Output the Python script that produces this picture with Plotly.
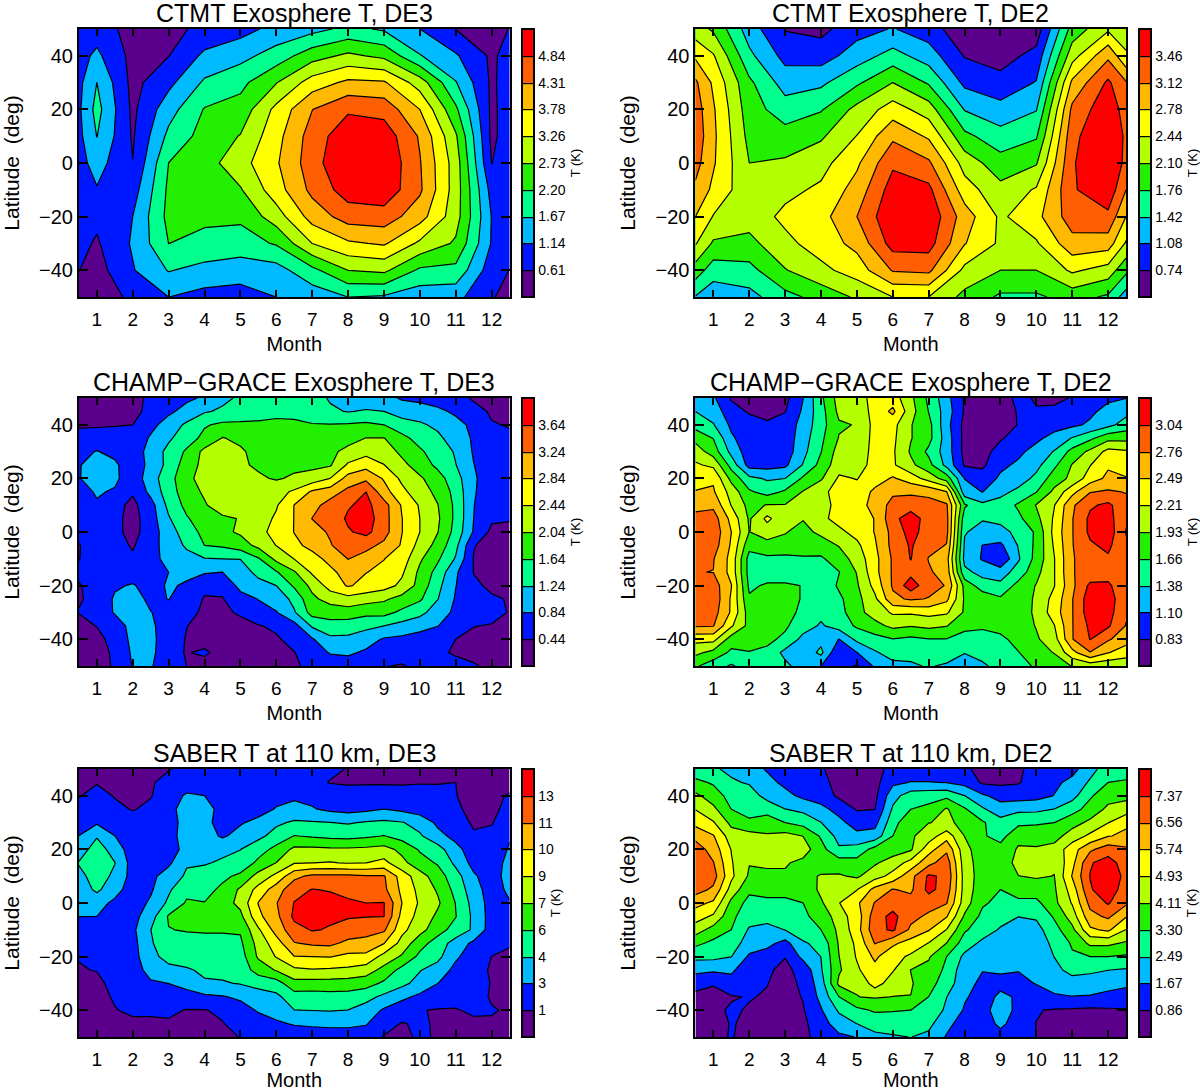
import numpy as np
import plotly.graph_objects as go

MONTHS_COARSE = [0.5, 1, 2, 3, 4, 5, 6, 7, 8, 9, 10, 11, 12, 12.5]
MONTHS_FINE = [0.5, 1, 1.5, 2, 2.5, 3, 3.5, 4, 4.5, 5, 5.5, 6, 6.5, 7, 7.5, 8, 8.5, 9, 9.5, 10, 10.5, 11, 11.5, 12, 12.5]
LATS_COARSE = [50, 40, 30, 20, 10, 0, -10, -20, -30, -40, -50]
LATS_FINE = [50, 45, 40, 35, 30, 25, 20, 15, 10, 5, 0, -5, -10, -15, -20, -25, -30, -35, -40, -45, -50]
MONTH_TICKS = [1, 2, 3, 4, 5, 6, 7, 8, 9, 10, 11, 12]
LAT_TICKS = [-40, -20, 0, 20, 40]

BAND_COLORS = ['#5a008c', '#0018ff', '#00baff', '#00ff8c', '#22f000',
               '#b4ff00', '#ffff00', '#ffb900', '#ff5f00', '#ff0000']

# one list per month column, each running from 50N to 50S
CTMT_DE3 = [
    [.85, .95, 1.0, 1.05, 1.0, .95, .9, .85, .75, .62, .4],
    [.9, 1.25, 1.67, 1.85, 1.68, 1.35, 1.1, .72, .55, .4, .25],
    [.4, .45, .45, .5, .55, .62, .9, 1.14, 1.2, 1.1, .75],
    [.45, .6, 1.0, 1.45, 1.8, 2.2, 2.3, 2.35, 2.2, 1.7, 1.14],
    [.75, 1.25, 1.75, 2.23, 2.4, 2.5, 2.45, 2.3, 2.05, 1.5, .95],
    [.95, 1.5, 2.05, 2.4, 2.75, 3.05, 2.68, 2.3, 1.95, 1.4, .9],
    [1.3, 1.9, 2.7, 3.4, 3.6, 3.72, 3.55, 3.0, 2.25, 1.45, 1.14],
    [1.5, 2.5, 3.5, 4.3, 4.55, 4.6, 4.45, 4.0, 3.26, 2.05, 1.35],
    [1.8, 2.84, 3.9, 4.76, 5.2, 5.4, 5.1, 4.55, 3.7, 2.73, 1.67],
    [1.6, 2.6, 3.85, 4.65, 5.15, 5.3, 5.2, 4.6, 3.85, 2.84, 1.6],
    [1.14, 1.7, 3.0, 3.78, 4.25, 4.35, 4.4, 4.0, 3.15, 2.1, 1.35],
    [.6, 1.2, 1.7, 2.3, 2.8, 3.0, 3.0, 2.95, 2.65, 2.05, 1.3],
    [.5, .52, .52, .5, .5, .6, .95, 1.12, 1.1, .85, .65],
    [.62, .8, .85, .85, .85, .85, .9, .9, .8, .6, .45],
]
CTMT_DE2 = [
    [2.25, 2.72, 3.18, 3.3, 3.35, 3.25, 3.05, 2.78, 2.47, 1.95, 1.4],
    [2.05, 2.47, 2.72, 2.82, 2.85, 2.82, 2.7, 2.42, 2.05, 1.58, 1.2],
    [1.25, 1.5, 1.83, 1.92, 2.0, 2.1, 2.2, 2.25, 2.0, 1.65, 1.3],
    [.72, .97, 1.27, 1.58, 1.9, 2.15, 2.35, 2.52, 2.35, 2.08, 1.65],
    [.65, .92, 1.35, 1.73, 2.05, 2.32, 2.5, 2.66, 2.6, 2.35, 1.88],
    [.95, 1.25, 1.7, 2.2, 2.45, 2.72, 2.92, 3.12, 2.88, 2.6, 2.15],
    [1.1, 1.55, 2.1, 2.6, 3.05, 3.4, 3.62, 3.75, 3.6, 3.15, 2.44],
    [.9, 1.25, 1.72, 2.27, 2.73, 3.18, 3.55, 3.72, 3.6, 3.2, 2.44],
    [.5, .72, 1.0, 1.4, 1.85, 2.3, 2.6, 2.95, 2.8, 2.35, 2.0],
    [.1, .6, .85, 1.2, 1.55, 1.9, 2.2, 2.38, 2.38, 2.1, 1.7],
    [.55, .85, 1.1, 1.4, 1.72, 2.07, 2.48, 2.68, 2.4, 2.1, 1.7],
    [1.9, 2.3, 2.85, 3.2, 3.35, 3.42, 3.42, 3.3, 3.0, 2.5, 1.9],
    [2.38, 3.05, 3.52, 3.7, 3.85, 3.85, 3.7, 3.38, 2.95, 2.3, 1.7],
    [2.2, 2.5, 3.15, 3.3, 3.38, 3.35, 3.12, 2.78, 2.4, 1.85, 1.25],
]

# one list per latitude, 50N at the top, half month steps
CHAMP_DE3 = [
    [.3, .3, .3, .35, .5, .6, .75, .9, 1.15, 1.3, 1.45, 1.5, 1.5, 1.4, 1.2, 1.05, 1.0, .95, .8, .7, .6, .55, .4, .3, .3],
    [.35, .35, .35, .38, .5, .75, 1.0, 1.2, 1.3, 1.45, 1.5, 1.55, 1.55, 1.45, 1.3, 1.22, 1.28, 1.24, 1.05, 1.1, .95, .75, .55, .4, .36],
    [.42, .4, .42, .44, .7, 1.05, 1.3, 1.6, 1.72, 1.7, 1.7, 1.72, 1.7, 1.66, 1.66, 1.68, 1.72, 1.64, 1.42, 1.28, 1.18, 1.0, .72, .46, .42],
    [.5, .6, .58, .5, .9, 1.18, 1.45, 1.75, 2.06, 1.95, 1.8, 1.75, 1.75, 1.75, 1.8, 1.9, 2.05, 2.05, 1.75, 1.5, 1.3, 1.1, .78, .55, .5],
    [.72, .86, .72, .6, 1.0, 1.35, 1.7, 2.15, 2.35, 2.1, 1.9, 1.85, 1.85, 1.85, 1.95, 2.15, 2.3, 2.25, 1.95, 1.7, 1.45, 1.2, .8, .6, .55],
    [.82, .98, .92, .55, .98, 1.35, 1.85, 2.15, 2.3, 2.1, 1.98, 1.9, 1.95, 1.95, 2.0, 2.5, 2.7, 2.45, 2.15, 1.85, 1.55, 1.25, .85, .6, .55],
    [.82, 1.02, .92, .6, 1.05, 1.5, 1.9, 2.25, 2.3, 2.2, 2.1, 2.0, 2.1, 2.2, 2.44, 3.0, 3.15, 2.8, 2.35, 2.1, 1.8, 1.4, .9, .6, .55],
    [.7, .88, .8, .48, .95, 1.45, 1.85, 2.1, 2.05, 2.2, 2.3, 2.3, 2.5, 2.9, 3.05, 3.35, 3.64, 3.0, 2.55, 2.2, 1.95, 1.5, .88, .6, .55],
    [.65, .8, .55, .35, .68, 1.35, 1.75, 2.0, 2.25, 2.2, 2.3, 2.4, 2.85, 3.1, 3.4, 3.6, 3.75, 3.4, 2.8, 2.4, 2.05, 1.55, .85, .6, .55],
    [.6, .72, .55, .3, .65, 1.2, 1.6, 1.85, 1.97, 2.06, 2.25, 2.5, 2.85, 3.25, 3.4, 3.7, 3.85, 3.4, 2.85, 2.44, 2.1, 1.55, .84, .5, .48],
    [.55, .7, .55, .3, .65, 1.05, 1.45, 1.75, 1.95, 2.1, 2.3, 2.6, 2.85, 3.05, 3.3, 3.6, 3.75, 3.4, 2.85, 2.44, 2.05, 1.5, .8, .35, .3],
    [.42, .65, .58, .4, .7, 1.0, 1.3, 1.64, 1.7, 1.85, 2.15, 2.45, 2.75, 2.95, 3.2, 3.55, 3.35, 3.15, 2.8, 2.3, 1.9, 1.35, .46, .3, .3],
    [.43, .6, .6, .5, .72, .95, 1.1, 1.22, 1.24, 1.25, 1.6, 2.15, 2.45, 2.7, 2.95, 3.25, 3.1, 2.85, 2.65, 2.1, 1.7, 1.2, .42, .3, .3],
    [.5, .58, .65, .6, .7, .84, .95, .88, .84, 1.05, 1.35, 1.6, 2.0, 2.5, 2.75, 3.0, 2.85, 2.75, 2.5, 1.95, 1.5, .9, .43, .33, .32],
    [.42, .55, .78, .88, .65, .9, .78, .5, .55, .95, 1.1, 1.24, 1.7, 2.15, 2.6, 2.88, 2.72, 2.6, 2.35, 1.9, 1.35, .85, .5, .38, .36],
    [.42, .5, .9, 1.0, .75, .85, .6, .42, .42, .7, .85, 1.0, 1.35, 1.95, 2.2, 2.3, 2.2, 2.1, 1.9, 1.7, 1.25, .8, .55, .48, .42],
    [.45, .55, .88, 1.05, .85, .72, .6, .35, .38, .48, .7, .82, 1.2, 1.8, 1.8, 1.85, 1.75, 1.78, 1.55, 1.35, 1.05, .75, .55, .55, .42],
    [.35, .45, .6, 1.0, .92, .62, .45, .3, .35, .35, .42, .5, .7, 1.3, 1.5, 1.45, 1.35, 1.24, 1.1, 1.0, .85, .6, .45, .42, .35],
    [.3, .35, .55, .95, .95, .6, .42, .3, .3, .3, .35, .4, .55, .8, 1.15, 1.15, 1.0, .8, .75, .65, .55, .44, .35, .3, .3],
    [.3, .3, .5, .9, .95, .55, .42, .5, .3, .3, .32, .35, .43, .62, .87, .9, .78, .62, .55, .55, .5, .4, .32, .3, .4],
    [.3, .25, .5, .86, .88, .55, .44, .3, .3, .3, .3, .3, .38, .55, .6, .65, .6, .45, .42, .5, .55, .55, .48, .35, .3],
]
CHAMP_DE2 = [
    [1.2, 1.15, .8, .6, .6, .75, 1.1, 1.6, 2.05, 2.1, 2.3, 2.35, 2.0, 1.6, 1.2, .8, .7, .7, .9, .8, .75, .85, .95, 1.05, 1.1],
    [1.38, 1.25, .95, .8, .72, .82, 1.15, 1.55, 2.0, 2.05, 2.3, 2.55, 2.05, 1.65, 1.25, .8, .7, .7, .85, .85, .9, .95, 1.05, 1.2, 1.3],
    [1.55, 1.4, 1.05, .95, .88, .95, 1.2, 1.55, 1.9, 1.95, 2.3, 2.3, 1.95, 1.75, 1.2, .75, .7, .72, .84, .95, 1.0, 1.05, 1.15, 1.3, 1.5],
    [1.85, 1.65, 1.15, .95, .9, .95, 1.25, 1.6, 1.95, 2.0, 2.3, 2.27, 1.95, 1.75, 1.25, .75, .7, .8, .95, 1.05, 1.2, 1.4, 1.6, 1.85, 1.85],
    [2.08, 1.8, 1.3, .95, .95, .95, 1.3, 1.65, 2.05, 2.05, 2.3, 2.25, 1.9, 1.6, 1.25, .75, .72, .95, 1.05, 1.2, 1.4, 1.75, 2.0, 2.3, 2.25],
    [2.25, 2.15, 1.55, 1.0, 1.0, 1.05, 1.4, 1.75, 2.1, 2.1, 2.3, 2.25, 2.0, 1.75, 1.3, .8, .78, 1.05, 1.15, 1.3, 1.6, 1.95, 2.2, 2.45, 2.4],
    [2.38, 2.45, 1.85, 1.45, 1.35, 1.38, 1.7, 1.9, 2.25, 2.2, 2.35, 2.52, 2.35, 2.1, 1.8, 1.1, .95, 1.15, 1.25, 1.45, 1.8, 2.0, 2.35, 2.55, 2.5],
    [2.5, 2.52, 2.1, 1.7, 1.55, 1.7, 1.95, 2.15, 2.3, 2.3, 2.55, 2.72, 2.72, 2.7, 2.5, 1.2, 1.1, 1.3, 1.45, 1.65, 2.0, 2.4, 2.75, 2.8, 2.75],
    [2.68, 2.7, 2.2, 1.85, 1.95, 1.95, 1.95, 2.1, 2.3, 2.35, 2.6, 2.85, 2.9, 2.85, 2.8, 1.7, 1.45, 1.5, 1.7, 1.95, 2.2, 2.72, 3.0, 3.1, 2.85],
    [2.85, 2.9, 2.4, 1.9, 2.28, 2.0, 1.95, 2.15, 2.3, 2.3, 2.5, 2.95, 3.2, 2.9, 2.85, 1.5, 1.4, 1.45, 1.6, 1.85, 2.25, 2.75, 3.1, 3.15, 2.8],
    [2.95, 2.95, 2.49, 1.93, 2.05, 1.95, 1.85, 2.0, 2.15, 2.3, 2.5, 2.85, 3.15, 2.9, 2.85, 1.4, 1.3, 1.3, 1.45, 1.7, 2.3, 2.75, 3.1, 3.2, 2.75],
    [2.9, 2.9, 2.45, 1.75, 1.85, 1.85, 1.9, 1.8, 1.95, 2.15, 2.45, 2.85, 3.07, 2.85, 2.75, 1.35, 1.1, 1.05, 1.4, 1.72, 2.25, 2.75, 3.0, 3.1, 2.8],
    [2.78, 2.78, 2.4, 1.55, 1.6, 1.58, 1.6, 1.62, 1.8, 2.05, 2.4, 2.8, 3.05, 2.75, 2.6, 1.3, 1.08, .85, 1.35, 1.75, 2.2, 2.75, 2.85, 3.0, 2.8],
    [2.77, 2.76, 2.4, 1.55, 1.5, 1.5, 1.55, 1.55, 1.65, 1.95, 2.4, 2.8, 2.95, 2.8, 2.65, 1.45, 1.3, 1.25, 1.5, 1.85, 2.2, 2.75, 2.85, 2.9, 2.8],
    [2.9, 2.9, 2.5, 1.6, 1.7, 1.7, 1.65, 1.45, 1.7, 1.9, 2.3, 2.8, 3.2, 2.85, 2.75, 1.85, 1.5, 1.45, 1.75, 1.95, 2.2, 2.7, 3.1, 3.1, 2.8],
    [2.95, 2.95, 2.45, 1.7, 1.75, 1.7, 1.65, 1.5, 1.6, 1.85, 2.15, 2.7, 2.8, 2.75, 2.55, 1.9, 1.85, 1.7, 1.7, 2.0, 2.3, 2.75, 3.2, 3.2, 2.8],
    [2.9, 2.88, 2.45, 1.8, 1.8, 1.75, 1.6, 1.45, 1.55, 1.85, 2.05, 2.25, 2.25, 2.3, 2.25, 1.9, 1.9, 1.8, 1.75, 2.0, 2.35, 2.75, 3.2, 3.15, 2.8],
    [2.8, 2.78, 2.25, 1.85, 1.8, 1.7, 1.5, 1.35, 1.5, 1.7, 1.85, 2.0, 1.95, 2.0, 1.95, 1.7, 1.7, 1.75, 1.8, 1.95, 2.2, 2.75, 3.1, 3.08, 2.75],
    [2.3, 2.3, 1.8, 1.75, 1.72, 1.6, 1.3, 1.3, 1.1, 1.45, 1.55, 1.65, 1.6, 1.65, 1.65, 1.6, 1.55, 1.6, 1.75, 1.9, 2.1, 2.75, 3.05, 2.8, 2.6],
    [2.0, 1.85, 1.6, 1.65, 1.6, 1.3, 1.2, 1.45, .85, 1.1, 1.35, 1.5, 1.45, 1.55, 1.5, 1.4, 1.45, 1.5, 1.65, 1.8, 1.95, 2.4, 2.75, 2.5, 2.35],
    [1.7, 1.5, 1.35, 1.5, 1.5, 1.45, 1.25, 1.1, .95, .8, 1.15, 1.3, 1.35, 1.4, 1.35, 1.15, 1.35, 1.45, 1.55, 1.7, 1.75, 1.95, 2.05, 2.0, 2.0],
]
SABER_DE3 = [
    [.8, .7, .7, .7, .8, 1.3, 1.7, 1.9, 1.9, 1.9, 1.9, 1.9, 1.9, 1.8, 1.6, 1.3, 1.0, .9, .9, .9, .9, .9, .8, .8, .8],
    [.9, 1.3, 1.1, .9, 1.25, 1.7, 2.0, 2.0, 1.9, 1.9, 1.9, 1.9, 1.9, 1.7, 1.3, 1.2, 1.2, 1.2, 1.2, 1.3, 1.3, 1.36, .9, .9, .9],
    [1.3, 1.7, 1.3, .95, 1.3, 2.0, 3.0, 2.8, 1.9, 1.9, 1.9, 2.3, 2.5, 2.4, 2.1, 2.0, 2.1, 2.2, 2.0, 1.8, 1.7, 1.4, .9, 1.0, 1.5],
    [1.7, 1.9, 1.6, 1.3, 1.6, 2.0, 3.9, 3.7, 2.0, 1.9, 2.2, 2.9, 3.3, 2.9, 2.5, 2.3, 2.5, 2.8, 2.5, 2.1, 2.0, 1.6, .95, 1.1, 1.7],
    [2.0, 2.6, 2.0, 1.8, 1.9, 2.0, 3.5, 3.3, 2.1, 2.65, 3.2, 4.0, 4.4, 4.35, 4.25, 4.1, 4.35, 4.5, 4.3, 3.7, 2.5, 1.9, 1.2, 1.3, 1.9],
    [2.8, 4.1, 2.8, 2.0, 2.0, 2.1, 3.6, 3.4, 2.6, 3.3, 3.9, 4.7, 5.7, 5.5, 5.3, 5.2, 5.4, 5.7, 5.1, 4.4, 3.2, 2.4, 1.5, 1.6, 2.6],
    [3.5, 4.9, 3.6, 2.0, 2.0, 2.2, 3.2, 3.5, 3.9, 4.2, 5.0, 6.1, 7.4, 7.4, 7.3, 7.3, 7.4, 7.6, 6.7, 5.5, 4.8, 3.2, 2.1, 1.4, 3.0],
    [4.3, 5.0, 4.25, 2.2, 2.1, 2.5, 4.1, 4.1, 4.4, 4.6, 6.0, 7.1, 8.4, 8.5, 8.6, 8.4, 8.5, 8.9, 7.5, 6.2, 5.5, 3.9, 2.3, 1.8, 3.4],
    [3.9, 4.7, 4.0, 2.2, 2.4, 3.5, 4.4, 4.8, 5.3, 6.0, 7.6, 8.9, 11.0, 11.7, 11.7, 11.7, 11.5, 11.5, 9.3, 7.7, 6.3, 4.8, 3.0, 2.0, 3.5],
    [3.4, 4.5, 3.3, 2.1, 2.6, 4.0, 5.3, 5.1, 6.0, 7.3, 9.0, 10.7, 12.3, 12.85, 12.7, 12.4, 11.7, 11.7, 9.6, 8.1, 6.9, 5.2, 3.4, 2.1, 3.1],
    [2.9, 3.3, 2.5, 2.1, 3.0, 4.5, 5.8, 5.7, 6.4, 7.5, 10.0, 11.3, 12.85, 13.5, 13.3, 13.0, 12.8, 12.85, 9.95, 8.3, 7.3, 5.6, 3.7, 2.2, 2.7],
    [2.8, 2.79, 2.4, 2.3, 3.6, 5.8, 5.9, 5.9, 6.2, 6.7, 9.6, 11.0, 13.1, 13.3, 13.0, 12.9, 12.85, 12.82, 9.5, 8.0, 6.8, 5.7, 3.9, 2.2, 2.3],
    [2.2, 2.2, 2.2, 2.5, 4.2, 5.6, 5.75, 5.8, 5.8, 5.8, 8.3, 10.5, 12.3, 12.9, 12.7, 12.3, 12.0, 11.6, 8.9, 7.6, 6.2, 5.1, 4.0, 2.1, 2.0],
    [1.6, 1.8, 2.0, 2.3, 4.1, 4.9, 5.1, 5.2, 5.2, 5.4, 7.6, 9.3, 11.3, 11.6, 11.7, 11.0, 10.8, 10.0, 8.0, 6.2, 5.0, 3.6, 2.5, 1.7, 1.6],
    [1.4, 1.6, 1.9, 2.2, 3.9, 4.6, 4.7, 4.8, 4.8, 5.0, 7.3, 8.6, 9.9, 9.94, 10.0, 9.6, 9.6, 8.0, 6.9, 5.3, 4.6, 3.0, 2.1, 1.35, .9],
    [1.3, 1.4, 1.8, 2.1, 3.3, 3.9, 4.1, 4.4, 4.6, 4.9, 6.2, 7.2, 8.2, 8.4, 8.3, 8.2, 7.8, 6.6, 5.2, 4.3, 3.6, 2.4, 1.9, 1.2, 1.0],
    [.95, 1.1, 1.7, 2.0, 2.6, 2.8, 3.2, 4.1, 4.1, 4.3, 4.8, 5.0, 6.6, 6.5, 6.5, 6.4, 6.2, 5.4, 4.6, 3.7, 2.8, 2.2, 1.9, 1.3, 1.2],
    [.9, .95, 1.5, 1.9, 2.2, 2.3, 2.3, 2.5, 2.7, 3.0, 3.4, 3.9, 5.0, 5.0, 5.1, 5.1, 4.7, 3.9, 3.1, 2.5, 1.9, 1.7, 1.6, 1.3, 1.2],
    [.6, .7, 1.3, 1.6, 1.6, 1.6, 1.3, 1.3, 1.6, 2.3, 2.9, 3.3, 4.2, 4.25, 4.3, 4.2, 3.6, 2.6, 2.0, 1.4, 1.3, 1.3, 1.5, 1.4, 1.3],
    [.5, .6, .9, 1.1, 1.1, 1.2, 1.0, 1.0, 1.3, 1.8, 2.3, 2.6, 2.9, 3.0, 3.1, 3.1, 2.9, 1.8, 1.3, 1.5, 1.25, 1.1, 1.2, 1.3, 1.1],
    [.5, .5, .5, .5, .5, .6, .7, .9, 1.1, 1.4, 1.6, 1.8, 2.0, 2.1, 2.1, 2.1, 2.0, 1.3, 1.0, 1.6, 1.2, .9, .9, .9, .9],
]
SABER_DE2 = [
    [2.8, 2.6, 2.3, 2.0, 1.6, 1.1, .9, .9, .7, .5, .6, 1.1, 1.3, 1.2, 1.1, .95, .7, .7, .8, 1.0, 1.2, 1.4, 2.2, 2.9, 2.9],
    [3.5, 3.2, 2.6, 2.4, 1.9, 1.5, 1.1, 1.0, .7, .5, .6, 1.5, 1.7, 1.7, 1.65, 1.4, .75, .7, .8, 1.2, 1.5, 1.9, 2.6, 3.3, 3.4],
    [4.3, 3.7, 3.0, 2.9, 2.2, 1.9, 1.5, 1.3, .7, .5, .65, 2.2, 2.9, 3.0, 3.1, 2.5, 1.8, 1.4, 1.3, 1.4, 1.7, 2.2, 3.2, 3.8, 3.9],
    [4.9, 4.3, 3.3, 3.1, 3.0, 2.5, 2.3, 1.9, 1.4, .8, .85, 2.6, 3.3, 3.5, 4.2, 3.4, 2.6, 2.0, 2.3, 2.3, 2.5, 3.0, 3.6, 4.3, 4.5],
    [5.5, 5.0, 3.9, 3.4, 3.7, 3.3, 3.0, 2.5, 1.9, 1.3, 1.4, 3.0, 3.9, 4.1, 4.2, 4.0, 3.4, 2.8, 3.1, 3.2, 3.3, 3.8, 4.3, 4.9, 5.6],
    [6.3, 5.8, 4.5, 4.45, 4.2, 4.4, 4.1, 3.2, 2.2, 1.9, 2.0, 3.3, 4.0, 4.5, 5.4, 4.1, 3.4, 3.0, 3.9, 3.8, 3.8, 4.5, 5.1, 5.7, 5.9],
    [7.0, 6.2, 4.9, 4.5, 4.5, 4.4, 4.5, 3.6, 2.6, 2.8, 3.6, 3.7, 4.0, 5.4, 6.4, 4.4, 3.6, 3.6, 4.2, 4.2, 4.4, 5.4, 6.4, 7.0, 6.7],
    [7.2, 6.6, 5.0, 4.15, 4.2, 4.2, 3.9, 3.6, 3.7, 3.6, 4.0, 4.5, 5.2, 6.3, 7.0, 4.5, 3.7, 3.6, 4.4, 4.3, 4.2, 5.5, 7.3, 7.7, 7.0],
    [7.1, 6.9, 5.1, 4.0, 4.0, 4.0, 3.8, 4.2, 4.2, 4.0, 4.6, 5.2, 6.3, 7.5, 7.2, 4.6, 3.7, 3.6, 4.1, 4.2, 4.1, 5.8, 7.4, 7.8, 7.2],
    [6.9, 6.4, 4.6, 3.5, 3.6, 3.6, 3.5, 4.3, 4.9, 4.9, 6.0, 6.6, 6.4, 7.6, 7.0, 4.6, 3.6, 3.3, 3.5, 3.7, 4.0, 5.3, 7.3, 7.8, 7.0],
    [6.0, 5.6, 3.9, 3.0, 3.1, 3.1, 3.3, 4.0, 4.9, 5.6, 6.6, 7.0, 6.9, 6.9, 6.6, 4.5, 3.4, 3.1, 3.2, 3.1, 3.9, 5.0, 6.8, 7.45, 6.7],
    [5.3, 4.8, 3.5, 2.8, 2.7, 2.8, 3.2, 3.5, 4.6, 5.3, 7.0, 7.6, 6.8, 6.4, 5.8, 4.0, 3.1, 2.8, 2.5, 2.6, 3.4, 4.5, 6.3, 6.7, 5.8],
    [4.5, 3.8, 3.3, 2.4, 2.3, 2.5, 2.9, 3.3, 4.3, 5.4, 7.1, 7.5, 6.4, 5.8, 4.9, 3.4, 2.9, 2.4, 2.1, 2.2, 3.0, 3.9, 5.6, 5.9, 4.9],
    [3.5, 3.1, 2.9, 2.1, 1.9, 1.4, 2.4, 2.7, 4.2, 5.1, 6.6, 5.9, 5.4, 4.9, 4.1, 2.9, 2.3, 2.0, 1.95, 2.0, 2.7, 3.4, 4.3, 4.3, 4.0],
    [2.7, 2.7, 2.5, 1.55, 1.3, .88, 1.9, 2.5, 4.1, 5.0, 5.9, 5.2, 4.8, 4.2, 3.3, 2.3, 1.9, 1.8, 1.8, 2.0, 2.5, 3.2, 3.3, 3.3, 3.2],
    [1.9, 1.8, 1.75, 1.4, .95, .7, 1.1, 2.4, 4.0, 4.8, 5.5, 5.0, 4.1, 3.9, 3.1, 2.0, 1.7, 1.75, 1.7, 1.8, 2.3, 2.7, 2.6, 2.5, 2.4],
    [1.1, .9, 1.5, 1.3, .88, .6, 1.0, 2.1, 4.3, 4.2, 5.3, 4.5, 4.2, 3.6, 2.9, 1.95, 1.5, 1.5, 1.5, 1.7, 1.9, 2.2, 2.2, 1.9, 1.8],
    [.7, .7, .8, .9, .8, .6, .9, 1.9, 3.3, 4.1, 4.2, 4.1, 4.1, 3.3, 2.5, 1.75, 1.4, 1.8, 1.6, 1.4, 1.6, 1.65, 1.6, 1.5, 1.4],
    [.6, .7, .95, .8, .7, .55, .8, 1.6, 2.6, 3.1, 3.4, 3.35, 3.3, 3.2, 2.3, 1.6, 1.3, 2.2, 1.4, .9, .8, .75, .7, .75, .8],
    [.6, .6, .9, .75, .6, .55, .7, 1.3, 2.1, 2.5, 2.8, 2.9, 2.9, 2.7, 1.9, 1.3, 1.15, 1.9, 1.2, .85, .75, .7, .7, .7, .75],
    [.6, .7, .9, .65, .6, .6, .7, 1.1, 1.5, 1.7, 2.3, 2.4, 2.5, 2.3, 1.6, 1.0, 1.0, 1.3, 1.1, .85, .7, .7, .7, .7, .7],
]

# contour levels and the labels printed on each colour bar
LEVELS_CTMT_DE3 = [0.61, 1.14, 1.67, 2.20, 2.73, 3.26, 3.78, 4.31, 4.84]
LEVELS_CTMT_DE2 = [0.74, 1.08, 1.42, 1.76, 2.10, 2.44, 2.78, 3.12, 3.46]
LEVELS_CHAMP_DE3 = [0.44, 0.84, 1.24, 1.64, 2.04, 2.44, 2.84, 3.24, 3.64]
LEVELS_CHAMP_DE2 = [0.83, 1.10, 1.38, 1.66, 1.93, 2.21, 2.49, 2.76, 3.04]
LEVELS_SABER_DE3 = [1.36, 2.79, 4.22, 5.65, 7.08, 8.51, 9.94, 11.37, 12.80]
LEVELS_SABER_DE2 = [0.86, 1.67, 2.49, 3.30, 4.11, 4.93, 5.74, 6.56, 7.37]
LABELS_SABER_DE3 = ['1', '3', '4', '6', '7', '9', '10', '11', '13']

FONT = 'Liberation Sans'
WIDTH, HEIGHT = 1200, 1091
COL_LEFT = [79, 696]
ROW_TOP = [29, 398, 769]
PLOT_W, PLOT_H = 431, 268

panels = [
    (0, 0, 'CTMT Exosphere T, DE3', MONTHS_COARSE, LATS_COARSE, np.array(CTMT_DE3).T, LEVELS_CTMT_DE3, None),
    (0, 1, 'CTMT Exosphere T, DE2', MONTHS_COARSE, LATS_COARSE, np.array(CTMT_DE2).T, LEVELS_CTMT_DE2, None),
    (1, 0, 'CHAMP\u2212GRACE Exosphere T, DE3', MONTHS_FINE, LATS_FINE, CHAMP_DE3, LEVELS_CHAMP_DE3, None),
    (1, 1, 'CHAMP\u2212GRACE Exosphere T, DE2', MONTHS_FINE, LATS_FINE, CHAMP_DE2, LEVELS_CHAMP_DE2, None),
    (2, 0, 'SABER T at 110 km, DE3', MONTHS_FINE, LATS_FINE, SABER_DE3, LEVELS_SABER_DE3, LABELS_SABER_DE3),
    (2, 1, 'SABER T at 110 km, DE2', MONTHS_FINE, LATS_FINE, SABER_DE2, LEVELS_SABER_DE2, None),
]

colorscale = [[i / 9, c] for i, c in enumerate(BAND_COLORS)]

fig = go.Figure()
layout = {}
annotations = []
for n, (row, col, title, months, lats, z, levels, labels) in enumerate(panels, start=1):
    left, top = COL_LEFT[col], ROW_TOP[row]
    x0, x1 = left / WIDTH, (left + PLOT_W) / WIDTH
    y0, y1 = 1 - (top + PLOT_H) / HEIGHT, 1 - top / HEIGHT
    size = (levels[-1] - levels[0]) / 8

    fig.add_trace(go.Contour(
        x=months, y=lats, z=z,
        xaxis=f'x{n}', yaxis=f'y{n}',
        colorscale=colorscale,
        zauto=False, zmin=levels[0] - size, zmax=levels[-1] + size,
        contours=dict(start=levels[0], end=levels[-1], size=size, coloring='fill'),
        line=dict(color='black', width=1.2, smoothing=0),
        colorbar=dict(
            x=(left + PLOT_W + 12) / WIDTH, xanchor='left', xpad=0,
            y=y0, yanchor='bottom', ypad=0, len=y1 - y0,
            thickness=12, outlinecolor='black', outlinewidth=2,
            tickmode='array', tickvals=levels,
            ticktext=labels or [f'{v:.2f}' for v in levels],
            ticks='', tickfont=dict(family=FONT, size=14, color='black'),
            title=dict(text='T (K)', side='right', font=dict(family=FONT, size=13, color='black')),
        ),
    ))

    layout[f'xaxis{n}'] = dict(
        domain=[x0, x1], anchor=f'y{n}', range=[0.5, 12.5],
        tickmode='array', tickvals=MONTH_TICKS,
        ticks='inside', ticklen=7, tickwidth=2, tickcolor='black', ticklabelstandoff=4,
        showline=True, linecolor='black', linewidth=2, mirror='allticks',
        showgrid=False, zeroline=False,
        tickfont=dict(family=FONT, size=19, color='black'),
        title=dict(text='Month', font=dict(family=FONT, size=20, color='black'), standoff=8),
    )
    layout[f'yaxis{n}'] = dict(
        domain=[y0, y1], anchor=f'x{n}', range=[-50, 50],
        tickmode='array', tickvals=LAT_TICKS,
        ticks='inside', ticklen=9, tickwidth=2, tickcolor='black',
        showline=True, linecolor='black', linewidth=2, mirror='allticks',
        showgrid=False, zeroline=False,
        tickfont=dict(family=FONT, size=20, color='black'),
        title=dict(text='Latitude  (deg)', font=dict(family=FONT, size=21, color='black'), standoff=14),
    )
    annotations.append(dict(
        text=title, xref='paper', yref='paper', showarrow=False,
        x=(x0 + x1) / 2, y=y1 + 1 / HEIGHT, xanchor='center', yanchor='bottom', borderpad=0,
        font=dict(family=FONT, size=25, color='black'),
    ))

fig.update_layout(
    width=WIDTH, height=HEIGHT,
    margin=dict(l=0, r=0, t=0, b=0),
    paper_bgcolor='white', plot_bgcolor='white',
    annotations=annotations,
    **layout,
)

fig.write_html("out.html", post_script="document.body.style.margin='0';",
               config=dict(displayModeBar=False))
